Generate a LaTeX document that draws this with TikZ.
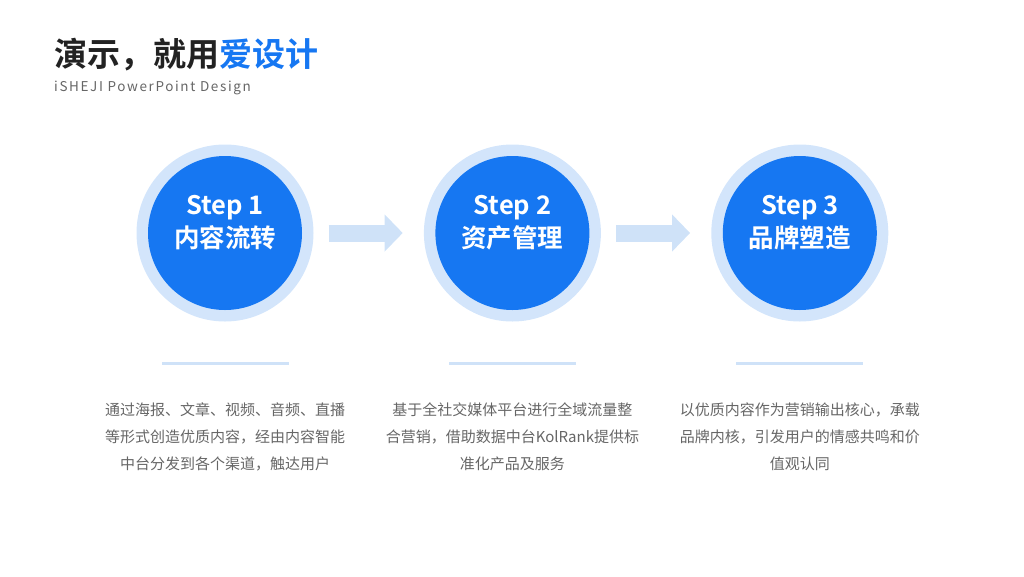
\documentclass[tikz,border=0pt]{standalone}
\usepackage{fontspec}
\usetikzlibrary{positioning, arrows.meta}
\usepackage{xcolor}
\newfontfamily\cjk{Noto Sans CJK SC}
\newfontfamily\cjkbold{Noto Sans CJK SC Bold}
\newfontfamily\subfont[LetterSpace=12]{Noto Sans CJK SC}
\definecolor{mainblue}{HTML}{1677F2}
\definecolor{ringblue}{HTML}{D3E5FB}
\definecolor{paleblue}{HTML}{CFE2F8}
\definecolor{titlegray}{HTML}{222222}
\definecolor{textgray}{HTML}{666666}

\begin{document}
\begin{tikzpicture}[
        x=1pt, y=-1pt,
        node distance=110pt,
        ring/.style={circle, fill=ringblue, minimum size=177pt, inner sep=0pt},
        disc/.style={circle, fill=mainblue, minimum size=154pt, inner sep=0pt},
        steplabel/.style={text=white, align=center, inner sep=0pt, font=\cjkbold\fontsize{25.5}{33}\selectfont},
        bar/.style={rectangle, fill=paleblue, minimum width=127pt, minimum height=3pt, inner sep=0pt},
        desc/.style={align=center, inner sep=0pt, text=textgray, font=\cjk\fontsize{15}{27}\selectfont},
        blockarrow/.style={paleblue, line width=17pt, -{Triangle[width=36pt, length=18pt]}}
    ]
        \useasboundingbox (0,0) rectangle (1024,576);

        % Title
        \node[anchor=west, inner sep=0pt, text=titlegray, font=\cjkbold\fontsize{33}{38}\selectfont] (title) at (54,55) {演示，就用\textcolor{mainblue}{爱设计}};
        \node[anchor=north west, inner sep=0pt, text=textgray, font=\subfont\fontsize{13.5}{16}\selectfont] (subtitle) at ([yshift=-9pt]title.south west) {iSHEJI PowerPoint Design};

        % Steps
        \node[ring] (ring1) at (225,233) {};
        \node[ring, right=of ring1] (ring2) {};
        \node[ring, right=of ring2] (ring3) {};
        \node[disc] (disc1) at (ring1) {};
        \node[disc] (disc2) at (ring2) {};
        \node[disc] (disc3) at (ring3) {};
        \node[steplabel] (step1) at ([yshift=10pt]disc1.center) {Step 1\\内容流转};
        \node[steplabel] (step2) at ([yshift=10pt]disc2.center) {Step 2\\资产管理};
        \node[steplabel] (step3) at ([yshift=10pt]disc3.center) {Step 3\\品牌塑造};

        % Arrows
        \draw[blockarrow] ([xshift=15pt]ring1.east) -- ([xshift=-21pt]ring2.west);
        \draw[blockarrow] ([xshift=15pt]ring2.east) -- ([xshift=-21pt]ring3.west);

        % Bars
        \node[bar, below=40pt of ring1] (bar1) {};
        \node[bar, below=40pt of ring2] (bar2) {};
        \node[bar, below=40pt of ring3] (bar3) {};

        % Descriptions
        \node[desc, below=37pt of bar1] (text1) {通过海报、文章、视频、音频、直播\\等形式创造优质内容，经由内容智能\\中台分发到各个渠道，触达用户};
        \node[desc, below=37pt of bar2] (text2) {基于全社交媒体平台进行全域流量整\\合营销，借助数据中台KolRank提供标\\准化产品及服务};
        \node[desc, below=37pt of bar3] (text3) {以优质内容作为营销输出核心，承载\\品牌内核，引发用户的情感共鸣和价\\值观认同};
    \end{tikzpicture}
\end{document}
